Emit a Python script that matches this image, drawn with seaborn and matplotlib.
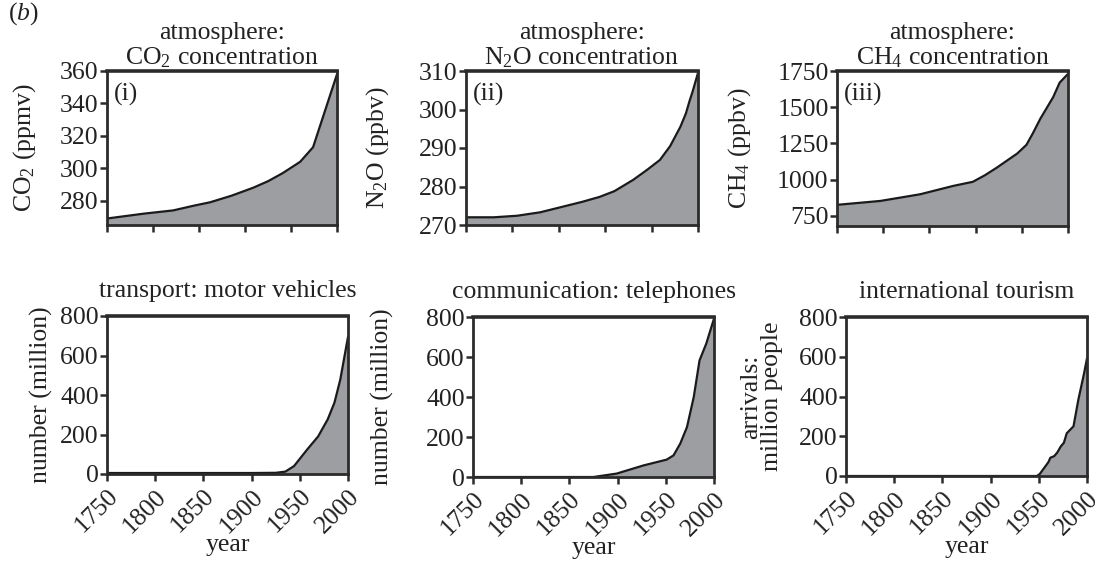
import matplotlib
matplotlib.use("Agg")
import matplotlib.pyplot as plt
import seaborn as sns
import numpy as np

# ---------------- data ----------------
co2_years = [1750, 1790, 1822, 1845, 1862, 1885, 1909, 1925, 1941, 1960, 1974, 2000]
co2_vals = [269, 272, 274, 277, 279, 283, 288, 292, 297, 304, 313, 358]

n2o_years = [1750, 1780, 1805, 1830, 1850, 1875, 1894, 1910, 1930, 1945, 1959, 1970, 1981, 1987, 1991, 1994, 1997, 2000]
n2o_vals = [272, 272, 272.4, 273.3, 274.5, 276.0, 277.3, 278.8, 281.7, 284.3, 286.9, 290.5, 295.5, 299.0, 302.3, 304.5, 307, 309.5]

ch4_years = [1750, 1797, 1840, 1876, 1897, 1910, 1923, 1945, 1955, 1962, 1970, 1984, 1991, 2000]
ch4_vals = [826, 853, 899, 957, 985, 1030, 1083, 1180, 1240, 1320, 1420, 1570, 1670, 1730]

veh_years = [1750, 1850, 1900, 1925, 1935, 1944, 1958, 1969, 1979, 1986, 1992, 2000]
veh_vals = [5, 5, 5, 6, 12, 40, 126, 190, 277, 362, 478, 694]

tel_years = [1750, 1875, 1899, 1927, 1951, 1958, 1965, 1972, 1979, 1985, 1992, 2000]
tel_vals = [0, 0, 17, 58, 87, 108, 167, 250, 400, 583, 667, 792]

tour_years = [1750, 1948, 1951, 1957, 1960, 1962, 1966, 1969, 1973, 1976, 1979, 1981, 1983, 1986, 1991, 1997, 2000]
tour_vals = [0, 0, 10, 50, 70, 92, 100, 117, 150, 167, 215, 225, 235, 250, 383, 517, 592]

titles = ["atmosphere:\nCO$_2$ concentration", "atmosphere:\nN$_2$O concentration",
          "atmosphere:\nCH$_4$ concentration", "transport: motor vehicles",
          "communication: telephones", "international tourism"]
ylabels = ["CO$_2$ (ppmv)", "N$_2$O (ppbv)", "CH$_4$ (ppbv)",
           "number (million)", "number (million)", "arrivals:\nmillion people"]
panel_tags = ["(i)", "(ii)", "(iii)", None, None, None]
yticks_list = [[280, 300, 320, 340, 360], [270, 280, 290, 300, 310],
               [750, 1000, 1250, 1500, 1750], [0, 200, 400, 600, 800],
               [0, 200, 400, 600, 800], [0, 200, 400, 600, 800]]
ylims = [(265, 360), (270, 310), (680, 1750), (0, 800), (0, 800), (0, 800)]
xticks = [1750, 1800, 1850, 1900, 1950, 2000]

series = [(co2_years, co2_vals), (n2o_years, n2o_vals), (ch4_years, ch4_vals),
          (veh_years, veh_vals), (tel_years, tel_vals), (tour_years, tour_vals)]

# ---------------- style ----------------
sns.set_theme(style="ticks")
plt.rcParams["font.family"] = ["Liberation Serif", "DejaVu Serif"]
plt.rcParams["mathtext.fontset"] = "custom"
plt.rcParams["mathtext.rm"] = "Liberation Serif"
plt.rcParams["mathtext.it"] = "Liberation Serif:italic"
plt.rcParams["mathtext.bf"] = "Liberation Serif:bold"

FS = 18.5
TXT = "#222222"
EDGE = "#2b2b2b"
FILL = "#9c9ea1"

fig = plt.figure(figsize=(10.95, 5.65), dpi=100)
W, H = 1095, 565
boxes = [(107, 337, 71, 225), (466, 698, 71, 225), (837, 1068, 71, 226),
         (107, 348, 316, 474), (473, 714, 317, 477), (846, 1087, 317, 476)]
# right edge (pixels) of each rotated y-label, as in the reference
ylabel_x = [38, 391, 753, 53, 394, 783]
title_pad = [5, 5, 5, 14, 14, 14]

for i, ((x0, x1, yt, yb), (xs, ys)) in enumerate(zip(boxes, series)):
    ax = fig.add_axes([x0 / W, (H - yb) / H, (x1 - x0) / W, (yb - yt) / H])
    lo = ylims[i][0]
    ax.fill_between(xs, ys, lo, color=FILL, linewidth=0, zorder=1)
    sns.lineplot(x=xs, y=ys, ax=ax, color="#1a1a1a", linewidth=1.6, zorder=2)
    ax.set_xlim(1750, 2000)
    ax.set_ylim(*ylims[i])
    ax.set_yticks(yticks_list[i])
    ax.set_xticks(xticks)
    for s in ax.spines.values():
        s.set_color(EDGE)
        s.set_linewidth(2.0)
    ax.spines["top"].set_linewidth(2.6)
    ax.tick_params(axis="y", direction="out", length=5, width=1.8,
                   color=EDGE, labelsize=FS, labelcolor=TXT, pad=1)
    ax.tick_params(axis="x", direction="out", length=5, width=1.8,
                   color=EDGE, labelsize=FS, labelcolor=TXT, pad=3)
    if i < 3:
        ax.set_xticklabels([])
    else:
        ax.set_xticklabels([str(t) for t in xticks], rotation=45,
                           ha="right", va="top", rotation_mode="anchor")
        ax.set_xlabel("year", fontsize=FS, color=TXT, labelpad=-2)
    ax.set_ylabel(ylabels[i], fontsize=FS, color=TXT, linespacing=0.95)
    ax.yaxis.set_label_coords((ylabel_x[i] - x0) / (x1 - x0), 0.5)
    ax.set_title(titles[i], fontsize=FS, color=TXT, pad=title_pad[i],
                 linespacing=1.05)
    if panel_tags[i]:
        ax.text(0.03, 0.92, panel_tags[i], transform=ax.transAxes, ha="left",
                va="top", fontsize=FS, color=TXT)

fig.text(8 / W, 1 - 14 / H, "($\\it{b}$)", fontsize=FS, color=TXT,
         ha="left", va="center")

fig.savefig("out.png", dpi=100)
